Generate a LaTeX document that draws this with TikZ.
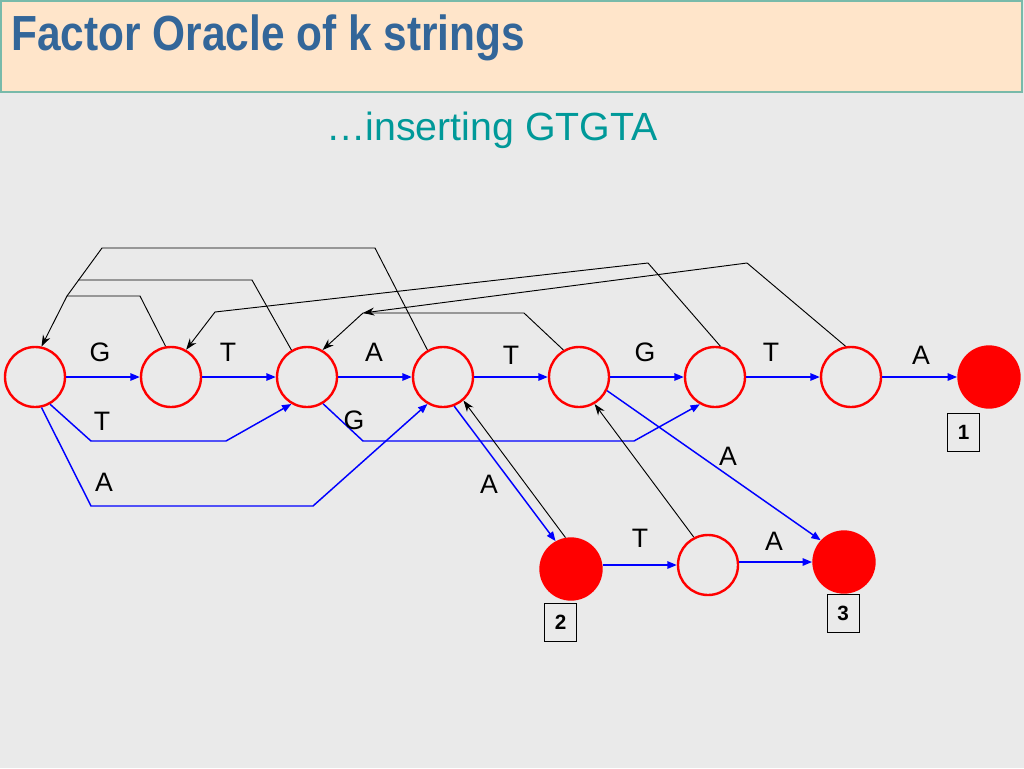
\documentclass[tikz,border=0pt]{standalone}
\usepackage{fontspec}
\setmainfont{Liberation Sans}
\usetikzlibrary{arrows.meta}
\definecolor{slidegray}{RGB}{234,234,234}
\definecolor{headfill}{RGB}{255,229,202}
\definecolor{headline}{RGB}{120,186,170}
\definecolor{titleblue}{RGB}{51,102,153}
\definecolor{subteal}{RGB}{0,153,153}
\begin{document}
\begin{tikzpicture}[x=0.75pt, y=-0.75pt,
    state/.style={circle, draw=red, line width=1.8pt, minimum size=45pt, inner sep=0pt},
    final/.style={circle, fill=red, minimum size=47.5pt, inner sep=0pt},
    sym/.style={font=\fontsize{20}{20}\selectfont, inner sep=0pt},
    tag/.style={draw, line width=0.6pt, font=\bfseries\fontsize{15.5}{15.5}\selectfont, minimum width=24pt, minimum height=28.5pt, inner sep=0pt},
    trans/.style={blue, line width=1.1pt, -{Triangle[length=7pt, width=5.5pt]}},
    suff/.style={black, line width=0.7pt, -{Stealth[length=8.5pt, width=6pt]}}]
    % Slide
    \useasboundingbox (0,0) rectangle (1024,768);
    \fill[slidegray] (0,0) rectangle (1024,768);
    \draw[headline, line width=1.4pt, fill=headfill] (1,1) rectangle (1022,92);
    \node[anchor=base west, text=titleblue, xscale=0.86, font=\bfseries\fontsize{37}{37}\selectfont, inner sep=0pt] (title) at (11,50) {Factor Oracle of k strings};
    \node[anchor=base, text=subteal, font=\fontsize{29.5}{29.5}\selectfont, inner sep=0pt] (subtitle) at (492,140) {\ldots inserting GTGTA};
    % States
    \node[state] (s0) at (35,377) {};
    \node[state] (s1) at (171,377) {};
    \node[state] (s2) at (307,377) {};
    \node[state] (s3) at (443,377) {};
    \node[state] (s4) at (579,377) {};
    \node[state] (s5) at (715,377) {};
    \node[state] (s6) at (851,377) {};
    \node[final] (f1) at (989,377) {};
    \node[final] (f2) at (571,569) {};
    \node[state] (t1) at (708,565) {};
    \node[final] (f3) at (844,562) {};
    % String numbers
    \node[tag] (n1) at (963.5,432.5) {1};
    \node[tag] (n2) at (560.5,622.5) {2};
    \node[tag] (n3) at (843,613.5) {3};
    % Forward transitions
    \draw[trans] (s0.east) -- (s1.west);
    \draw[trans] (s1.east) -- (s2.west);
    \draw[trans] (s2.east) -- (s3.west);
    \draw[trans] (s3.east) -- (s4.west);
    \draw[trans] (s4.east) -- (s5.west);
    \draw[trans] (s5.east) -- (s6.west);
    \draw[trans] (s6.east) -- (f1.west);
    \draw[trans] (f2.east |- t1.west) -- (t1.west);
    \draw[trans] (t1.east |- f3.west) -- (f3.west);
    \coordinate (tT1) at (91,441);
    \coordinate (tT2) at (226,441);
    \draw[trans] (s0.-61) -- (tT1) -- (tT2) -- (s2.-120);
    \coordinate (tA1) at (91,506);
    \coordinate (tA2) at (313,506);
    \draw[trans] (s0.-78) -- (tA1) -- (tA2) -- (s3.-120);
    \coordinate (tG1) at (363,441);
    \coordinate (tG2) at (634,441);
    \draw[trans] (s2.-59) -- (tG1) -- (tG2) -- (s5.-119);
    \draw[trans] (s3.-69) -- (f2.119);
    \draw[trans] (s4.-26) -- (f3.137);
    % Transition labels
    \node[sym] (lG1) at (100,352.5) {G};
    \node[sym] (lT1) at (228,352.5) {T};
    \node[sym] (lA1) at (374,352.5) {A};
    \node[sym] (lT2) at (511,355) {T};
    \node[sym] (lG2) at (645,352.5) {G};
    \node[sym] (lT3) at (771,352.5) {T};
    \node[sym] (lA2) at (921,355) {A};
    \node[sym] (lT4) at (102,421) {T};
    \node[sym] (lG3) at (354,420) {G};
    \node[sym] (lA3) at (104,482) {A};
    \node[sym] (lA4) at (489,484) {A};
    \node[sym] (lA5) at (728,456) {A};
    \node[sym] (lT5) at (640,538) {T};
    \node[sym] (lA6) at (774,541) {A};
    % Suffix links
    \coordinate (k0) at (67,296);
    \coordinate (k1) at (140,296);
    \coordinate (k2a) at (252,280);
    \coordinate (k2b) at (78,280);
    \coordinate (k3a) at (375,248);
    \coordinate (k3b) at (102,248);
    \draw[suff] (k0) -- (s0.78);
    \draw[line width=0.7pt] (s1.100) -- (k1) -- (k0);
    \draw[line width=0.7pt] (s2.120) -- (k2a) -- (k2b);
    \draw[line width=0.7pt] (s3.120) -- (k3a) -- (k3b) -- (k0);
    \coordinate (k4a) at (524,313);
    \coordinate (k4b) at (363,313);
    \draw[suff] (s4.120) -- (k4a) -- (k4b) -- (s2.60);
    \coordinate (k6) at (747,263);
    \draw[suff] (s6.100) -- (k6) -- (k4b);
    \coordinate (k5a) at (648,263);
    \coordinate (k5b) at (215,312);
    \draw[suff] (s5.80) -- (k5a) -- (k5b) -- (s1.61);
    \draw[suff] (f2.100) -- (s3.-49);
    \draw[suff] (t1.117) -- (s4.-60);
\end{tikzpicture}
\end{document}
